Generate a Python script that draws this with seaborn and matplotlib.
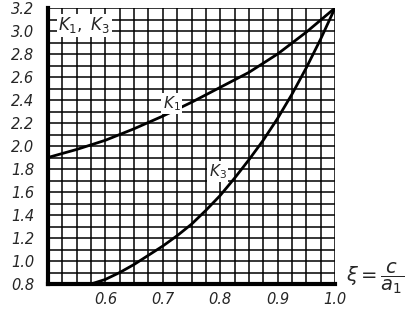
import matplotlib
matplotlib.use("Agg")
import matplotlib.pyplot as plt
import seaborn as sns
import numpy as np
import pandas as pd

# Data
k1_x = [0.50, 0.55, 0.60, 0.65, 0.70, 0.75, 0.80, 0.85, 0.90, 0.95, 1.00]
k1_y = [1.90, 1.97, 2.05, 2.15, 2.26, 2.38, 2.51, 2.64, 2.80, 2.99, 3.20]

k3_x = [0.575, 0.600, 0.625, 0.650, 0.675, 0.700, 0.725, 0.750, 0.775,
        0.800, 0.825, 0.850, 0.875, 0.900, 0.925, 0.950, 0.975, 1.000]
k3_y = [0.80, 0.84, 0.90, 0.97, 1.05, 1.13, 1.22, 1.32, 1.44,
        1.57, 1.72, 1.88, 2.05, 2.24, 2.45, 2.68, 2.93, 3.20]

x_ticks = [0.6, 0.7, 0.8, 0.9, 1.0]
x_tick_labels = ["0.6", "0.7", "0.8", "0.9", "1.0"]
y_ticks = [0.8, 1.0, 1.2, 1.4, 1.6, 1.8, 2.0, 2.2, 2.4, 2.6, 2.8, 3.0, 3.2]
y_tick_labels = ["0.8", "1.0", "1.2", "1.4", "1.6", "1.8", "2.0", "2.2",
                 "2.4", "2.6", "2.8", "3.0", "3.2"]

sns.set_style("white")
plt.rcParams['font.family'] = ['DejaVu Sans']
plt.rcParams['mathtext.fontset'] = 'dejavusans'

fig = plt.figure(figsize=(4.19, 3.10), dpi=100)
ax = fig.add_axes([48/419, 26/310, (335-48)/419, (284-8)/310])

df1 = pd.DataFrame({"x": k1_x, "y": k1_y})
df3 = pd.DataFrame({"x": k3_x, "y": k3_y})
sns.lineplot(data=df1, x="x", y="y", ax=ax, color="black", lw=2.0)
sns.lineplot(data=df3, x="x", y="y", ax=ax, color="black", lw=2.0)

ax.set_xlim(0.5, 1.0)
ax.set_ylim(0.8, 3.2)

# grid
for gx in np.arange(0.5, 1.0001, 0.025):
    ax.axvline(gx, color="black", lw=1.1, zorder=0)
for gy in np.arange(0.8, 3.2001, 0.1):
    ax.axhline(gy, color="black", lw=1.1, zorder=0)

ax.set_xticks(x_ticks)
ax.set_xticklabels(x_tick_labels, fontstyle="italic", fontsize=10.5)
ax.set_yticks(y_ticks)
ax.set_yticklabels(y_tick_labels, fontstyle="italic", fontsize=10.5)
ax.tick_params(axis="x", length=0, pad=6)
ax.tick_params(axis="y", length=0, pad=10)
ax.set_xlabel("")
ax.set_ylabel("")

for s in ["top", "right"]:
    ax.spines[s].set_visible(False)
ax.spines["left"].set_linewidth(3)
ax.spines["bottom"].set_linewidth(3)
ax.spines["left"].set_color("black")
ax.spines["bottom"].set_color("black")

wb = dict(facecolor="white", edgecolor="none", pad=1.0)
ax.text(0.518, 3.05, r"$K_1,\ K_3$", fontsize=12, ha="left", va="center",
        bbox=wb, zorder=3)
ax.text(0.70, 2.37, r"$K_1$", fontsize=11, ha="left", va="center",
        bbox=wb, zorder=3)
ax.text(0.78, 1.78, r"$K_3$", fontsize=11, ha="left", va="center",
        bbox=wb, zorder=3)
ax.text(1.02, 0.85, r"$\xi = \dfrac{c}{a_1}$", fontsize=14, ha="left",
        va="center", clip_on=False)

fig.savefig("out.png", dpi=100)
